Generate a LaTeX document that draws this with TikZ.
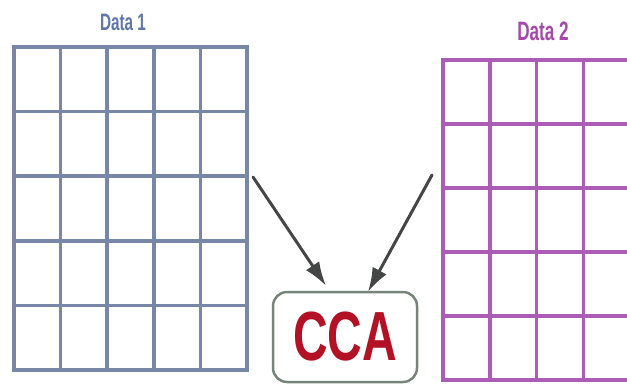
\documentclass[tikz,border=0pt]{standalone}
\usepackage{fontspec}
\setmainfont{Liberation Sans}
\usetikzlibrary{arrows.meta}
\usepackage{xcolor}
\definecolor{gridone}{RGB}{120,134,168}
\definecolor{gridtwo}{RGB}{172,92,182}
\definecolor{labone}{RGB}{95,118,172}
\definecolor{labtwo}{RGB}{165,72,172}
\definecolor{flowgray}{RGB}{68,70,70}
\definecolor{boxrim}{RGB}{118,132,122}
\definecolor{ccared}{RGB}{178,18,36}

\begin{document}
\begin{tikzpicture}[x=1pt,y=-1pt,>={Latex[length=24pt,width=16pt]},line cap=round]
\useasboundingbox (0,0) rectangle (627,386);
% Data 1
\node[labone,font=\fontsize{17}{18}\selectfont\bfseries] (lab1) at (123,22) {\scalebox{0.9}[1.4]{Data 1}};
\draw[gridone,line width=3.5pt] (14,47) rectangle (247,370);
\draw[gridone,line width=3.5pt] (60.6,47) -- (60.6,370);
\draw[gridone,line width=3.5pt] (107.2,47) -- (107.2,370);
\draw[gridone,line width=3.5pt] (153.8,47) -- (153.8,370);
\draw[gridone,line width=3.5pt] (200.4,47) -- (200.4,370);
\draw[gridone,line width=3.5pt] (14,111.6) -- (247,111.6);
\draw[gridone,line width=3.5pt] (14,176.2) -- (247,176.2);
\draw[gridone,line width=3.5pt] (14,240.8) -- (247,240.8);
\draw[gridone,line width=3.5pt] (14,305.4) -- (247,305.4);
% Data 2
\node[labtwo,font=\fontsize{19}{20}\selectfont\bfseries] (lab2) at (543,31) {\scalebox{0.9}[1.4]{Data 2}};
\draw[gridtwo,line width=3.5pt] (443,60) rectangle (630,380);
\draw[gridtwo,line width=3.5pt] (489.8,60) -- (489.8,380);
\draw[gridtwo,line width=3.5pt] (536.6,60) -- (536.6,380);
\draw[gridtwo,line width=3.5pt] (583.4,60) -- (583.4,380);
\draw[gridtwo,line width=3.5pt] (443,124) -- (630,124);
\draw[gridtwo,line width=3.5pt] (443,188) -- (630,188);
\draw[gridtwo,line width=3.5pt] (443,252) -- (630,252);
\draw[gridtwo,line width=3.5pt] (443,316) -- (630,316);
% CCA box and arrows
\node[draw=boxrim,line width=2.5pt,fill=white,rounded corners=14pt,
  minimum width=144pt,minimum height=90pt,inner sep=0pt,
  text=ccared,font=\fontsize{48}{50}\selectfont\bfseries] (cca) at (345,337)
  {\scalebox{1}[1.45]{CCA}};
\coordinate (from1) at (253,177);
\coordinate (from2) at (432,175);
\draw[->,flowgray,line width=3pt] (from1) -- ([xshift=-19pt,yshift=5pt]cca.north);
\draw[->,flowgray,line width=3pt] (from2) -- ([xshift=23pt,yshift=-1pt]cca.north);
\end{tikzpicture}
\end{document}
